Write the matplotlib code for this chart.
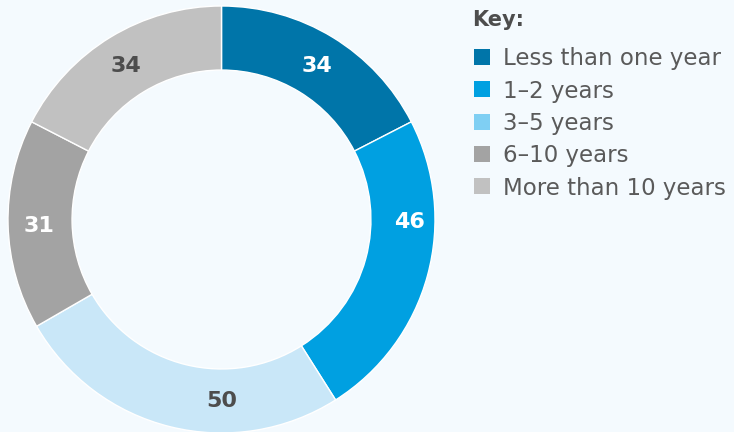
import numpy as np
import matplotlib.pyplot as plt
from matplotlib.patches import Rectangle

categories = ["Less than one year", "1\u20132 years", "3\u20135 years", "6\u201310 years", "More than 10 years"]
values = [34, 46, 50, 31, 34]
wedge_colors = ["#0075a9", "#00a0e1", "#c9e7f8", "#a3a3a3", "#c1c1c1"]
key_colors = ["#0075a9", "#00a0e1", "#7fcff3", "#a3a3a3", "#c1c1c1"]
label_colors = ["white", "white", "#4d4d4d", "white", "#4d4d4d"]
# small nudges applied to the value labels, as in the original layout
label_shift = [0, 15, 14, 0, 0]        # degrees
label_radius = [0.855, 0.88, 0.84, 0.855, 0.855]

W, H = 734, 432
bg = "#f4fafe"
fig = plt.figure(figsize=(W / 100, H / 100), dpi=100)
fig.patch.set_facecolor(bg)

ax = fig.add_axes([8 / W, -1 / H, 427 / W, 427 / H])
ax.set_facecolor(bg)
ax.pie(values, colors=wedge_colors, startangle=90, counterclock=False, radius=1.0,
       wedgeprops=dict(width=0.30, edgecolor="white", linewidth=1))

total = sum(values)
start = 90
for v, c, s, r in zip(values, label_colors, label_shift, label_radius):
    mid = np.deg2rad(start - v / total * 180 + s)
    ax.text(r * np.cos(mid), r * np.sin(mid) - 0.01, str(v), ha="center", va="center",
            fontsize=16, fontweight="bold", color=c, family="DejaVu Sans")
    start -= v / total * 360
ax.set_xlim(-1, 1)
ax.set_ylim(-1, 1)
ax.set_aspect("equal")
ax.axis("off")

# key
fig.text(472 / W, 1 - 26 / H, "Key:", fontsize=15, fontweight="bold", color="#4d4d4d",
         family="DejaVu Sans", va="baseline", ha="left")
for i, (lab, col) in enumerate(zip(categories, key_colors)):
    yc = 57 + i * 32.3
    fig.patches.append(Rectangle((474 / W, 1 - (yc + 8) / H), 16 / W, 16 / H,
                                 transform=fig.transFigure, facecolor=col, edgecolor="none"))
    fig.text(503 / W, 1 - (yc + 8.5) / H, lab, fontsize=16.5, color="#5a5a5a",
             family="DejaVu Sans", va="baseline", ha="left")

plt.savefig("out.png", dpi=100, facecolor=bg)
